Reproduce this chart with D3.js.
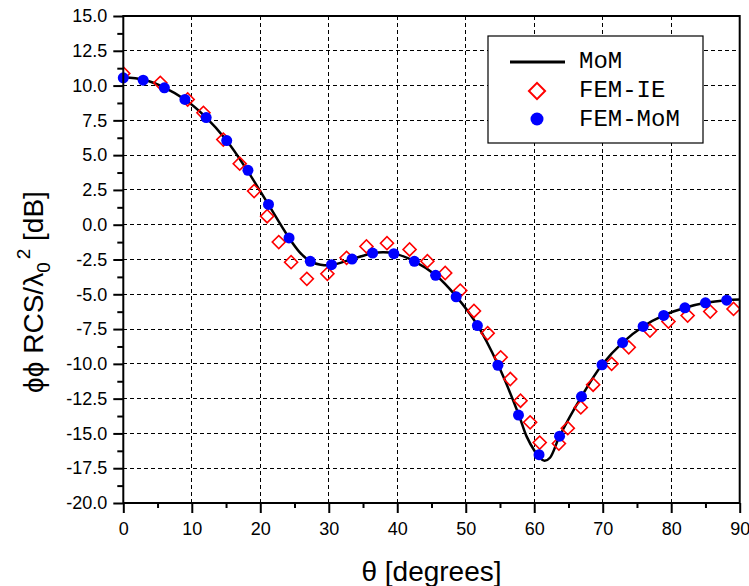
<!DOCTYPE html>
<html>
<head>
<meta charset="utf-8">
<script src="https://cdn.jsdelivr.net/npm/d3@7"></script>
<style>
  body { margin: 0; background: #fff; }
  svg { display: block; }
</style>
</head>
<body>
<div id="d3-container"></div>
<script>
// MoM reference curve (theta in degrees, RCS in dB)
const momTheta = [0, 3, 6, 9, 12, 15, 18, 21, 24, 25.7, 27.3, 28.8, 30.4, 33.4, 36.4, 38, 39.5, 42.5, 45.6, 48.6, 51.7, 54.7, 57.7, 58.9, 60.1, 60.8, 61.5, 62.3, 63.7, 66.9, 69.9, 72.9, 75.9, 78.9, 82, 85, 88, 90];
const momRcs = [10.6, 10.42, 9.86, 9.0, 7.75, 6.1, 3.98, 1.6, -0.8, -1.95, -2.63, -2.87, -2.9, -2.47, -2.05, -1.98, -2.06, -2.63, -3.62, -5.15, -7.22, -10.05, -13.6, -15.23, -16.3, -16.75, -16.97, -16.75, -15.2, -12.35, -10.07, -8.47, -7.31, -6.52, -5.97, -5.61, -5.42, -5.38];

// FEM-IE (red diamonds)
const ieTheta = [0, 5.4, 9.4, 11.7, 14.6, 17.0, 19.1, 21.0, 22.7, 24.5, 26.8, 29.8, 32.6, 35.5, 38.5, 41.8, 44.4, 47.0, 49.2, 51.2, 53.2, 55.1, 56.5, 58.0, 59.4, 60.8, 63.6, 64.9, 66.8, 68.6, 71.3, 73.8, 76.9, 79.6, 82.4, 85.7, 89.1];
const ieRcs = [10.87, 10.2, 9.0, 8.04, 6.12, 4.39, 2.42, 0.61, -1.25, -2.69, -3.89, -3.53, -2.38, -1.56, -1.33, -1.78, -2.62, -3.47, -4.73, -6.2, -7.8, -9.53, -11.09, -12.65, -14.2, -15.66, -15.73, -14.62, -13.13, -11.5, -10.0, -8.81, -7.61, -6.96, -6.53, -6.24, -6.05];

// FEM-MoM (blue dots)
const fmTheta = [0, 2.9, 6.0, 9.0, 12.1, 15.1, 18.2, 21.2, 24.2, 27.3, 30.4, 33.4, 36.4, 39.5, 42.5, 45.6, 48.6, 51.7, 54.7, 57.7, 60.7, 63.7, 66.9, 69.9, 72.9, 75.9, 78.9, 82.0, 85.0, 88.1];
const fmRcs = [10.56, 10.39, 9.84, 9.0, 7.70, 6.05, 3.91, 1.46, -0.95, -2.63, -2.87, -2.47, -2.04, -2.08, -2.63, -3.64, -5.18, -7.25, -10.1, -13.68, -16.53, -15.2, -12.35, -10.07, -8.47, -7.31, -6.52, -5.97, -5.61, -5.42];

const xTicks = [0, 10, 20, 30, 40, 50, 60, 70, 80, 90];
const yTicks = [-20, -17.5, -15, -12.5, -10, -7.5, -5, -2.5, 0, 2.5, 5, 7.5, 10, 12.5, 15];
const legendNames = ["MoM", "FEM-IE", "FEM-MoM"];

const mom = momTheta.map((t, i) => ({t: t, v: momRcs[i]}));
const ie = ieTheta.map((t, i) => ({t: t, v: ieRcs[i]}));
const fm = fmTheta.map((t, i) => ({t: t, v: fmRcs[i]}));

const width = 749;
const height = 586;
const margin = {top: 16, bottom: 83, left: 123.3, right: 9.3};

const svg = d3.select('#d3-container')
    .append('svg')
    .attr('width', width)
    .attr('height', height)
    .attr('font-family', 'Arial, "Liberation Sans", sans-serif');

const x = d3.scaleLinear()
    .domain([0, 90])
    .range([margin.left, width - margin.right]);

const y = d3.scaleLinear()
    .domain([-20, 15])
    .range([height - margin.bottom, margin.top]);

svg.append('clipPath').attr('id', 'plot-clip')
    .append('rect')
    .attr('x', x(0)).attr('y', y(15))
    .attr('width', x(90) - x(0)).attr('height', y(-20) - y(15));

// dashed grid
const grid = svg.append('g')
    .attr('stroke', '#000')
    .attr('stroke-width', 1)
    .attr('shape-rendering', 'crispEdges')
    .attr('stroke-dasharray', '4,3');

grid.selectAll('line.gx')
    .data(xTicks.slice(1, -1))
    .join('line')
    .attr('class', 'gx')
    .attr('x1', d => x(d)).attr('x2', d => x(d))
    .attr('y1', y(-20)).attr('y2', y(15));

grid.selectAll('line.gy')
    .data(yTicks.slice(1, -1))
    .join('line')
    .attr('class', 'gy')
    .attr('x1', x(0)).attr('x2', x(90))
    .attr('y1', d => y(d)).attr('y2', d => y(d));

// minor ticks
function yMinor(g) {
    g.attr('transform', `translate(${margin.left}, 0)`)
        .call(d3.axisLeft(y).tickValues(d3.range(-18.75, 15, 2.5)).tickSize(6).tickFormat(''))
        .call(g => g.select('.domain').remove());
}
function xMinor(g) {
    g.attr('transform', `translate(0, ${height - margin.bottom})`)
        .call(d3.axisBottom(x).tickValues(d3.range(5, 90, 10)).tickSize(5).tickFormat(''))
        .call(g => g.select('.domain').remove());
}

function yAxis(g) {
    g.attr('transform', `translate(${margin.left}, 0)`)
        .call(d3.axisLeft(y).tickValues(yTicks).tickSize(10).tickPadding(6).tickFormat(d => d.toFixed(1)))
        .attr('font-size', '18px')
        .attr('font-family', 'Arial, "Liberation Sans", sans-serif')
        .call(g => g.select('.domain').remove());
}

function xAxis(g) {
    g.attr('transform', `translate(0, ${height - margin.bottom})`)
        .call(d3.axisBottom(x).tickValues(xTicks).tickSize(10).tickPadding(9).tickFormat(d => String(d)))
        .attr('font-size', '18px')
        .attr('font-family', 'Arial, "Liberation Sans", sans-serif')
        .call(g => g.select('.domain').remove());
}

svg.append('g').call(yMinor);
svg.append('g').call(xMinor);
svg.append('g').call(yAxis);
svg.append('g').call(xAxis);
svg.selectAll('.tick line').attr('stroke', '#000').attr('stroke-width', 2);
svg.selectAll('.tick text').attr('fill', '#000');

// MoM curve
const line = d3.line()
    .x(d => x(d.t))
    .y(d => y(d.v))
    .curve(d3.curveCatmullRom.alpha(0.5));

svg.append('path')
    .datum(mom)
    .attr('fill', 'none')
    .attr('stroke', '#000')
    .attr('stroke-width', 2.5)
    .attr('d', line);

// FEM-IE diamonds
const diamond = d3.symbol().type(d3.symbolSquare).size(85);
svg.append('g')
    .attr('clip-path', 'url(#plot-clip)')
    .selectAll('path')
    .data(ie)
    .join('path')
    .attr('d', diamond)
    .attr('transform', d => `translate(${x(d.t)}, ${y(d.v)}) rotate(45)`)
    .attr('fill', 'none')
    .attr('stroke', '#ff0000')
    .attr('stroke-width', 1.6);

// FEM-MoM dots
svg.append('g')
    .selectAll('circle')
    .data(fm)
    .join('circle')
    .attr('cx', d => x(d.t))
    .attr('cy', d => y(d.v))
    .attr('r', 5.5)
    .attr('fill', '#0000ff');

// frame
svg.append('rect')
    .attr('x', x(0)).attr('y', y(15))
    .attr('width', x(90) - x(0)).attr('height', y(-20) - y(15))
    .attr('fill', 'none')
    .attr('stroke', '#000')
    .attr('stroke-width', 2);

// legend
const legend = svg.append('g');
legend.append('rect')
    .attr('x', 488).attr('y', 36)
    .attr('width', 215).attr('height', 107)
    .attr('fill', '#fff')
    .attr('stroke', '#000')
    .attr('stroke-width', 1.2);

legend.append('line')
    .attr('x1', 510).attr('x2', 565)
    .attr('y1', 62).attr('y2', 62)
    .attr('stroke', '#000').attr('stroke-width', 3);

legend.append('path')
    .attr('d', d3.symbol().type(d3.symbolSquare).size(130))
    .attr('transform', 'translate(537, 91) rotate(45)')
    .attr('fill', 'none')
    .attr('stroke', '#ff0000')
    .attr('stroke-width', 2);

legend.append('circle')
    .attr('cx', 537).attr('cy', 119).attr('r', 6.5)
    .attr('fill', '#0000ff');

legend.selectAll('text')
    .data(legendNames)
    .join('text')
    .attr('x', 579)
    .attr('y', (d, i) => 68 + i * 29)
    .attr('font-family', '"Liberation Mono", "Courier New", monospace')
    .attr('font-size', '24px')
    .attr('fill', '#000')
    .text(d => d);

// axis titles
svg.append('text')
    .attr('x', (x(0) + x(90)) / 2)
    .attr('y', 581)
    .attr('text-anchor', 'middle')
    .attr('font-size', '28px')
    .text('θ [degrees]');

const yTitle = svg.append('text')
    .attr('transform', 'translate(43, 292) rotate(-90)')
    .attr('text-anchor', 'middle')
    .attr('font-size', '28px');
yTitle.append('tspan').text('ϕϕ RCS/λ');
yTitle.append('tspan').attr('font-size', '19px').attr('dy', 7).text('0');
yTitle.append('tspan').attr('font-size', '19px').attr('dy', -20).attr('dx', 3).text('2');
yTitle.append('tspan').attr('dy', 13).text(' [dB]');

svg.node();
</script>
</body>
</html>
